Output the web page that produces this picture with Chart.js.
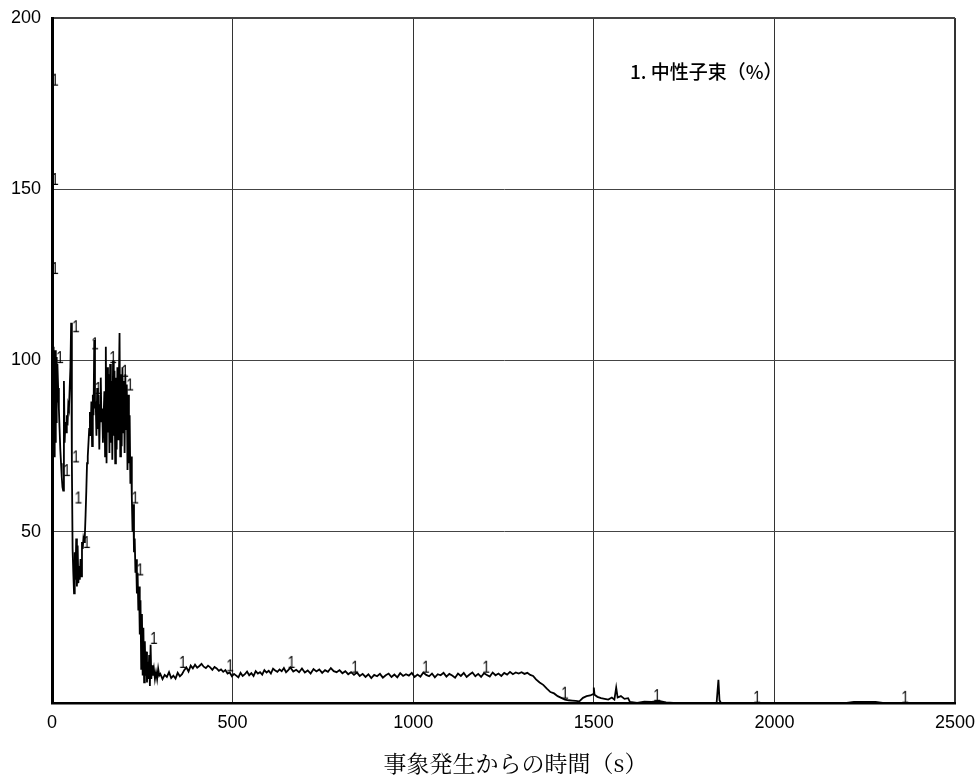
<!DOCTYPE html>
<html lang="ja">
<head>
<meta charset="UTF-8">
<title>中性子束</title>
<script src="https://cdn.jsdelivr.net/npm/chart.js"></script>
<style>
  body { margin: 0; background: #fff; }
  canvas { display: block; }
</style>
</head>
<body>
<canvas id="myChart" width="980" height="780"></canvas>
<script>
// 時間 (s) と 中性子束 (%)
const times = [
  0,1,2,3,4,5,6,7,8,9,10,11,12,13,14,15,17,19,21,23,25,27,29,31,33,35,37,39,41,43,45,47,49,51,53,
  55,57,59,61,63,65,67,69,71,73,75,77,79,81,83,85,87,89,91,93,95,97,99,101,103,105,107,109,111,113,115,117,119,
  121,123,125,127,129,131,133,135,137,139,141,143,145,147,149,151,153,155,157,159,161,163,165,167,169,171,173,175,177,179,
  181,183,185,187,189,191,193,195,197,199,201,203,205,207,209,211,213,215,217,219,221,223,225,227,229,231,233,235,237,239,
  241,243,245,247,249,251,253,255,257,259,261,263,265,267,269,271,273,275,277,279,282,285,288,291,294,297,
  300,306,312,318,324,330,336,342,348,354,360,366,372,378,384,390,396,402,408,414,420,426,432,438,444,450,456,462,468,474,
  480,486,492,498,504,510,516,522,528,534,540,546,552,558,564,570,576,582,588,594,600,606,612,618,624,630,636,642,648,654,
  660,668,676,684,692,700,708,716,724,732,740,748,756,764,772,780,788,796,804,812,820,828,836,844,852,860,868,876,884,892,
  900,908,916,924,932,940,948,956,964,972,980,988,996,1004,1012,1020,1028,1036,1044,1052,1060,1068,1076,1084,1092,1100,
  1108,1116,1124,1132,1140,1148,1156,1164,1172,1180,1188,1196,1204,1212,1220,1228,1236,1244,1252,1260,1268,1276,1284,1292,
  1300,1308,1316,1324,1332,
  1340,1350,1360,1370,1380,1390,1400,1410,1420,1430,1440,1450,1460,1470,1480,1490,1498,1500,1502,1510,1520,1530,1540,1550,
  1557,1562,1566,1575,1585,1595,1600,1620,1640,1660,1680,1700,1720,1840,1845,1848,1852,2200,2220,2280,2300,2500
];
const flux = [
  178,160,122,104,74,102,72,100,78,103,76,98,82,101,88,99,92,86,80,74,70,66,63,62,94,76,82,79,84,81,87,86,92,98,111,
  70,45,38,32,44,36,48,34,46,35,40,36,42,37,47,45,48,47,49,55,62,70,72,76,80,85,78,88,75,90,84,106,86,
  88,78,92,80,90,74,87,95,82,86,76,84,91,72,104,70,98,79,96,73,99,76,94,71,100,78,97,70,95,74,
  98,77,93,108,72,96,75,98,79,94,73,96,80,93,68,90,70,84,64,72,60,50,58,44,48,38,42,32,38,27,
  34,20,30,10,26,8,22,6,18,8,15,6,12,7,14,5,17,7,11,8,10,7,9,7,10,8,
  8.5,7.0,8.2,7.6,9.0,7.3,8.0,7.1,8.8,7.8,8.4,9.6,10.4,9.2,10.9,10.1,11.2,10.3,10.8,11.4,10.6,10.2,10.9,10.4,9.7,10.5,10.1,9.4,9.8,9.1,
  9.6,8.6,8.9,7.8,8.5,8.0,7.5,8.8,7.9,8.4,9.2,8.1,8.7,7.9,9.3,8.6,9.0,8.3,9.6,8.9,9.4,8.6,10.0,9.5,9.1,9.8,9.3,10.2,9.0,9.6,
  10.4,9.2,9.7,9.0,10.1,8.9,9.5,8.6,9.9,9.2,9.8,8.8,9.6,9.1,10.2,9.3,9.0,9.6,8.7,9.3,8.4,9.0,8.2,8.9,7.9,8.5,7.6,8.4,7.3,8.2,
  7.8,8.5,7.4,8.1,8.6,7.6,8.3,7.5,8.7,7.9,8.4,8.0,8.8,7.6,8.3,7.7,8.9,8.2,7.8,8.6,7.5,8.4,8.1,8.8,7.7,8.5,
  8.0,7.4,8.6,7.9,8.8,7.6,8.3,8.9,7.8,8.5,7.6,8.7,8.2,7.7,8.9,8.1,8.6,7.9,8.8,8.3,9.1,8.4,8.9,8.6,
  9.0,8.5,8.8,8.2,7.9,
  6.9,6.0,5.3,4.2,3.2,2.8,2.0,1.5,1.0,0.8,0.7,0.6,0.5,1.5,2.0,2.2,2.6,4.5,2.4,1.8,1.4,1.2,1.0,1.6,
  1.0,4.5,1.6,2.0,1.2,1.4,0.3,0.0,0.4,0.3,0.6,0.2,0.0,0.0,6.8,0.8,0.0,0.0,0.3,0.3,0.0,0.0
];

// 曲線番号 "1" の位置
const markerTimes = [8,8,8,22,41,66,66,73,96,119,128,169,202,216,230,244,282,362,493,663,839,1035,1202,1420,1675,1952,2362];
const markerValues = [182,153,127,101,68,110,72,60,47,105,92,101,97,93,60,39,19,12,11,12,10.6,10.6,10.6,3,2.3,1.8,1.8];

const seriesLabel = '1. 中性子束（%）';
const xTitle = '事象発生からの時間（s）';

// small "1" glyph used as point style
function makeMarker() {
    const c = document.createElement('canvas');
    c.width = 10; c.height = 18;
    const g = c.getContext('2d');
    g.fillStyle = '#000';
    g.font = '17px "Liberation Sans"';
    g.textAlign = 'center';
    g.textBaseline = 'middle';
    g.setTransform(0.8, 0, 0, 1, 5, 9);
    g.fillText('1', 0, 1);
    return c;
}

// series label inside the plot, axis title under the x axis
const textPlugin = {
    id: 'texts',
    afterDatasetsDraw(chart) {
        const { ctx, chartArea } = chart;
        ctx.save();
        ctx.fillStyle = '#000';
        ctx.textBaseline = 'middle';
        ctx.font = '500 19px "Noto Sans CJK JP"';
        ctx.fillText(seriesLabel, chartArea.left + chartArea.width * 0.64, chartArea.top + 54);
        ctx.font = '23px "Noto Serif CJK JP", "Noto Sans CJK JP"';
        ctx.textAlign = 'center';
        ctx.fillText(xTitle, (chartArea.left + chartArea.right) / 2 + 12, chart.height - 17);
        ctx.restore();
    }
};

const tickFont = { family: 'Liberation Sans', size: 18 };
const points = times.map((t, i) => ({ x: t, y: flux[i] }));
const marks = markerTimes.map((t, i) => ({ x: t, y: markerValues[i] }));

const ctx = document.getElementById('myChart').getContext('2d');
new Chart(ctx, {
    type: 'scatter',
    data: {
        datasets: [
            {
                label: seriesLabel,
                data: points,
                showLine: true,
                borderColor: '#000',
                borderWidth: 1.8,
                pointRadius: 0,
                tension: 0
            },
            {
                label: 'marker',
                data: marks,
                pointStyle: makeMarker(),
                pointRadius: 6
            }
        ]
    },
    options: {
        responsive: false,
        animation: false,
        events: [],
        layout: { padding: { left: 0, top: 18, right: 25, bottom: 0 } },
        plugins: { legend: { display: false }, tooltip: { enabled: false } },
        scales: {
            x: {
                type: 'linear',
                min: 0, max: 2500,
                ticks: { stepSize: 500, padding: 9, color: '#000', font: tickFont, callback: v => String(v) },
                grid: {
                    color: '#333',
                    lineWidth: c => (c.tick && c.tick.value === 2500 ? 2 : 1),
                    drawTicks: false
                },
                border: { color: '#000', width: 2.5 },
                afterFit: s => { s.height = 77; s.paddingLeft = 0; s.paddingRight = 0; }
            },
            y: {
                min: 0, max: 200,
                ticks: {
                    stepSize: 50, padding: 11, color: '#000', font: tickFont,
                    callback: v => (v === 0 ? '' : String(v))
                },
                grid: {
                    color: '#444',
                    lineWidth: c => (c.tick && c.tick.value === 200 ? 2 : 1),
                    drawTicks: false
                },
                border: { color: '#000', width: 3 },
                afterFit: s => { s.width = 52; s.paddingTop = 0; s.paddingBottom = 0; }
            }
        }
    },
    plugins: [textPlugin]
});
</script>
</body>
</html>
